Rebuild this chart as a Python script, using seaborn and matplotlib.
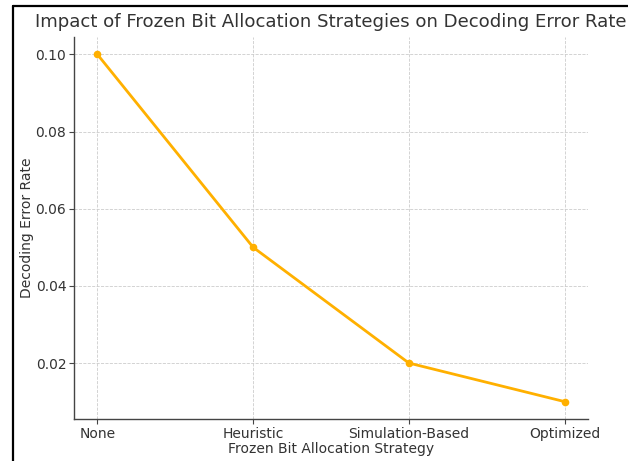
import matplotlib
matplotlib.use("Agg")
import matplotlib.pyplot as plt
from matplotlib.lines import Line2D
import seaborn as sns
import pandas as pd

strategies = ["None", "Heuristic", "Simulation-Based", "Optimized"]
error_rates = [0.10, 0.05, 0.02, 0.01]
y_ticks = [0.02, 0.04, 0.06, 0.08, 0.10]

sns.set_theme(style="ticks")
plt.rcParams["font.family"] = ["DejaVu Sans"]

TEXT = "#333333"
W, H = 628, 461
fig = plt.figure(figsize=(W / 100, H / 100), dpi=100)
fig.patch.set_facecolor("white")

# axes box in pixel coordinates: left 74, right 588, top 37, bottom 419
ax = fig.add_axes([74 / W, 1 - 419 / H, (588 - 74) / W, (419 - 37) / H])

df = pd.DataFrame({"strategy": strategies, "rate": error_rates})
sns.lineplot(data=df, x="strategy", y="rate", marker="o", color="#ffb000",
             linewidth=2, markersize=5.5, markeredgewidth=0, sort=False, ax=ax)

ax.set_xlim(-0.15, 3.15)
ax.set_ylim(0.0055, 0.1045)
ax.set_yticks(y_ticks)
ax.set_yticklabels([f"{v:.2f}" for v in y_ticks])

ax.grid(True, linestyle="--", linewidth=0.6, color="#cccccc")
for side in ("top", "right"):
    ax.spines[side].set_visible(False)
for side in ("left", "bottom"):
    ax.spines[side].set_color("#444444")
    ax.spines[side].set_linewidth(1.0)
ax.tick_params(axis="both", colors="#444444", labelcolor=TEXT, labelsize=10,
               length=3.5, width=0.8, direction="out", pad=2)

ax.set_title("Impact of Frozen Bit Allocation Strategies on Decoding Error Rate",
             fontsize=13.1, color=TEXT, pad=7)
ax.set_xlabel("Frozen Bit Allocation Strategy", fontsize=10, color=TEXT, labelpad=1)
ax.set_ylabel("Decoding Error Rate", fontsize=10, color=TEXT, labelpad=1)

# outer black frame along the top and left edges
fig.add_artist(Line2D([13 / W, 1.0], [1 - 6.5 / H, 1 - 6.5 / H],
                      transform=fig.transFigure, color="black", linewidth=1.6))
fig.add_artist(Line2D([13 / W, 13 / W], [0.0, 1 - 6.5 / H],
                      transform=fig.transFigure, color="black", linewidth=1.6))

fig.savefig("out.png", dpi=100)
